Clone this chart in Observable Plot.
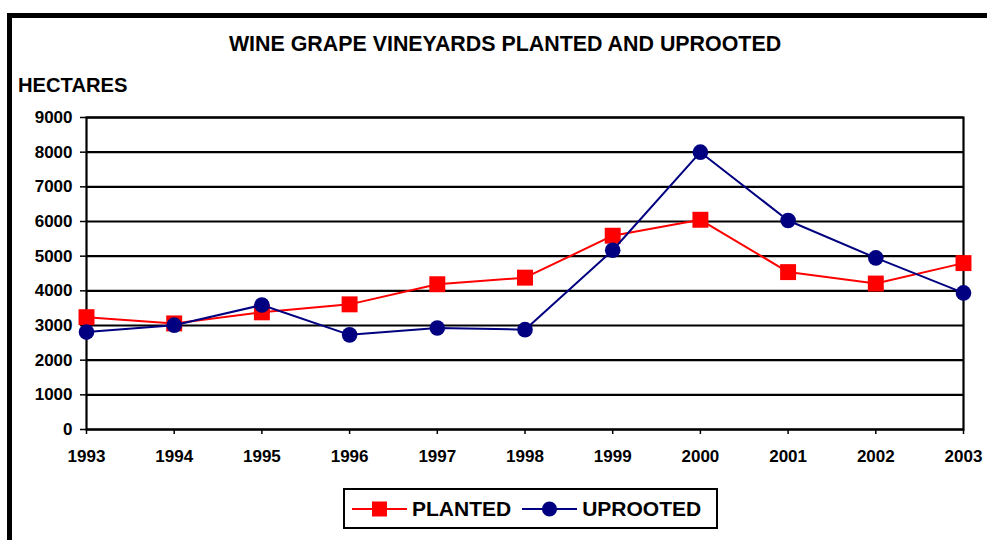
<!DOCTYPE html>
<html>
<head>
<meta charset="utf-8">
<script src="https://cdn.jsdelivr.net/npm/d3@7"></script>
<script src="https://cdn.jsdelivr.net/npm/@observablehq/plot@0.6"></script>
<style>
  html, body { margin: 0; padding: 0; background: #fff; }
  #wrap { position: relative; width: 987px; height: 540px; overflow: hidden; font-family: "Liberation Sans", Arial, sans-serif; font-weight: bold; color: #000; }
  #border { position: absolute; left: 7px; top: 13px; width: 990px; height: 540px; border-top: 5px solid #000; border-left: 5px solid #000; }
  #title { position: absolute; left: 0; top: 34px; width: 1010px; text-align: center; font-size: 21.4px; line-height: 21px; white-space: nowrap; }
  #ylabel { position: absolute; left: 18px; top: 75px; font-size: 20.2px; line-height: 20px; white-space: nowrap; }
  #chart { position: absolute; left: 0; top: 100px; }
  #legend { position: absolute; left: 343px; top: 488px; width: 371px; height: 37px; border: 2px solid #000; display: flex; align-items: center; font-size: 21px; line-height: 21px; }
  .item { display: flex; align-items: center; }
  .item svg { display: block; }
</style>
</head>
<body>
<div id="wrap">
  <div id="border"></div>
  <div id="title">WINE GRAPE VINEYARDS PLANTED AND UPROOTED</div>
  <div id="ylabel">HECTARES</div>
  <div id="chart"></div>
  <div id="legend"></div>
</div>
<script>
const years = [1993, 1994, 1995, 1996, 1997, 1998, 1999, 2000, 2001, 2002, 2003];
const planted = [3240, 3060, 3380, 3610, 4190, 4380, 5590, 6050, 4540, 4210, 4800];
const uprooted = [2810, 3010, 3590, 2730, 2930, 2880, 5170, 8000, 6030, 4950, 3940];
const yTicks = [0, 1000, 2000, 3000, 4000, 5000, 6000, 7000, 8000, 9000];
const seriesNames = ["PLANTED", "UPROOTED"];
const seriesColors = ["#ff0000", "#000080"];
const seriesSymbols = ["square", "circle"];

const plantedData = years.map((y, i) => ({year: y, value: planted[i], series: seriesNames[0]}));
const uprootedData = years.map((y, i) => ({year: y, value: uprooted[i], series: seriesNames[1]}));

const chart = Plot.plot({
  width: 987,
  height: 370,
  marginLeft: 86,
  marginRight: 24,
  marginTop: 17,
  marginBottom: 41,
  style: {fontFamily: "'Liberation Sans', Arial, sans-serif", fontWeight: "bold", fontSize: "17px", color: "#000", background: "transparent", overflow: "visible"},
  x: {domain: [1993, 2003], ticks: years, tickFormat: d => String(d)},
  y: {domain: [0, 9000], ticks: yTicks, tickFormat: d => String(d)},
  marks: [
    Plot.ruleY(yTicks, {stroke: "#000", strokeWidth: 2.2}),
    Plot.frame({stroke: "#000", strokeWidth: 2.2}),
    Plot.axisY({ticks: yTicks, tickSize: 6, tickPadding: 8, label: null, fontSize: 17, fontWeight: "bold", tickFormat: d => String(d), strokeWidth: 1.5}),
    Plot.axisX({ticks: years, tickSize: 5, tickPadding: 15, label: null, fontSize: 17, fontWeight: "bold", tickFormat: d => String(d), strokeWidth: 1.5}),
    Plot.line(plantedData, {x: "year", y: "value", stroke: seriesColors[0], strokeWidth: 2}),
    Plot.dot(plantedData, {x: "year", y: "value", symbol: seriesSymbols[0], fill: seriesColors[0], r: 9}),
    Plot.line(uprootedData, {x: "year", y: "value", stroke: seriesColors[1], strokeWidth: 2}),
    Plot.dot(uprootedData, {x: "year", y: "value", symbol: seriesSymbols[1], fill: seriesColors[1], r: 7.8})
  ]
});
document.getElementById("chart").appendChild(chart);

// Legend
const legend = document.getElementById("legend");
seriesNames.forEach((name, i) => {
  const item = document.createElement("div");
  item.className = "item";
  item.style.marginLeft = i === 0 ? "7px" : "11px";
  const ns = "http://www.w3.org/2000/svg";
  const svg = document.createElementNS(ns, "svg");
  svg.setAttribute("width", 56);
  svg.setAttribute("height", 20);
  const line = document.createElementNS(ns, "line");
  line.setAttribute("x1", 0); line.setAttribute("x2", 55);
  line.setAttribute("y1", 10); line.setAttribute("y2", 10);
  line.setAttribute("stroke", seriesColors[i]); line.setAttribute("stroke-width", 2);
  svg.appendChild(line);
  const sym = document.createElementNS(ns, "path");
  sym.setAttribute("transform", "translate(27.5,10)");
  sym.setAttribute("d", d3.symbol(seriesSymbols[i] === "square" ? d3.symbolSquare : d3.symbolCircle, i === 0 ? 225 : 180)());
  sym.setAttribute("fill", seriesColors[i]);
  svg.appendChild(sym);
  item.appendChild(svg);
  const label = document.createElement("span");
  label.textContent = name;
  label.style.marginLeft = "4px";
  item.appendChild(label);
  legend.appendChild(item);
});
</script>
</body>
</html>
